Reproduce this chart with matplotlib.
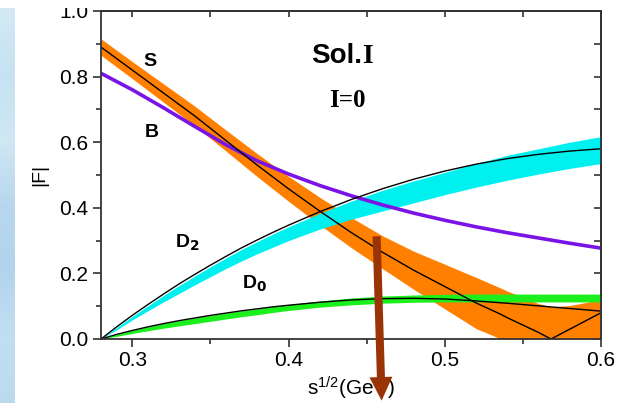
import numpy as np
import matplotlib
matplotlib.use("Agg")
import matplotlib.pyplot as plt
from matplotlib.colors import LinearSegmentedColormap
from matplotlib.patches import Rectangle

plt.rcParams['font.family'] = ['Liberation Sans', 'DejaVu Sans']
plt.rcParams['mathtext.default'] = 'regular'

# S wave: |F| central curve with its error band
x_s = [0.28, 0.30, 0.32, 0.34, 0.36, 0.38, 0.40, 0.42, 0.44, 0.46, 0.48, 0.50, 0.52,
       0.536, 0.54, 0.56, 0.568, 0.58, 0.60]
s_mid = [0.89, 0.82, 0.75, 0.68, 0.605, 0.53, 0.458, 0.39, 0.325, 0.265, 0.21, 0.16, 0.11,
         0.075, 0.065, 0.02, 0.0, 0.03, 0.08]
s_hi = [0.915, 0.846, 0.778, 0.71, 0.637, 0.565, 0.496, 0.432, 0.371, 0.315, 0.268, 0.228, 0.188,
        0.155, 0.146, 0.108, 0.098, 0.102, 0.12]
s_lo = [0.865, 0.794, 0.722, 0.65, 0.573, 0.495, 0.42, 0.348, 0.279, 0.215, 0.152, 0.092, 0.032,
        0.0, 0.0, 0.0, 0.0, 0.0, 0.0]

# B
x_b = [0.28, 0.30, 0.32, 0.34, 0.36, 0.38, 0.40, 0.42, 0.44, 0.46, 0.48, 0.50, 0.52,
       0.54, 0.56, 0.58, 0.60]
b_mid = [0.81, 0.76, 0.705, 0.648, 0.592, 0.543, 0.503, 0.468, 0.437, 0.409, 0.384, 0.362, 0.342,
         0.324, 0.308, 0.292, 0.277]

# D waves
x_d = [0.28, 0.29, 0.30, 0.31, 0.32, 0.33, 0.34, 0.35, 0.36, 0.37, 0.38, 0.39, 0.40,
       0.42, 0.44, 0.46, 0.48, 0.50, 0.52, 0.54, 0.56, 0.58, 0.60]
d2_mid = [0.0, 0.037, 0.072, 0.105, 0.137, 0.168, 0.197, 0.225, 0.252, 0.278, 0.302, 0.325, 0.347,
          0.388, 0.425, 0.458, 0.487, 0.512, 0.533, 0.550, 0.563, 0.573, 0.58]
d2_hi = [0.0, 0.035, 0.069, 0.101, 0.133, 0.163, 0.192, 0.220, 0.247, 0.273, 0.297, 0.320, 0.342,
         0.383, 0.420, 0.453, 0.482, 0.508, 0.535, 0.560, 0.580, 0.600, 0.617]
d2_lo = [0.0, 0.028, 0.058, 0.086, 0.113, 0.139, 0.165, 0.190, 0.215, 0.238, 0.260, 0.280, 0.300,
         0.335, 0.365, 0.390, 0.415, 0.440, 0.463, 0.484, 0.503, 0.520, 0.535]
d0_mid = [0.0, 0.014, 0.026, 0.037, 0.047, 0.056, 0.064, 0.072, 0.079, 0.086, 0.092, 0.098, 0.103,
          0.112, 0.119, 0.123, 0.124, 0.122, 0.116, 0.109, 0.101, 0.093, 0.085]
d0_hi = [0.0, 0.014, 0.026, 0.037, 0.047, 0.056, 0.064, 0.072, 0.079, 0.086, 0.092, 0.099, 0.105,
         0.116, 0.125, 0.131, 0.134, 0.136, 0.137, 0.137, 0.137, 0.137, 0.137]
d0_lo = [0.0, 0.008, 0.017, 0.025, 0.033, 0.040, 0.047, 0.054, 0.061, 0.068, 0.074, 0.081, 0.087,
         0.097, 0.104, 0.109, 0.112, 0.113, 0.113, 0.113, 0.113, 0.113, 0.113]

arrow_from = (0.4564, 0.313)
arrow_to = (0.4596, -0.188)

fig = plt.figure(figsize=(6.21, 4.03), dpi=100)

# light blue slide background on the left edge
bg = fig.add_axes([0, 0, 15 / 621, 395 / 403])
cmap = LinearSegmentedColormap.from_list('slide', ['#d4e9f5', '#c6e2f2', '#d0e7f4', '#b8d7ed',
                                                   '#b3d4ec', '#c2def1', '#bcdaee'])
bg.imshow(np.linspace(0, 1, 200).reshape(-1, 1), aspect='auto', cmap=cmap)
bg.axis('off')

ax = fig.add_axes([101 / 621, 64 / 403, 500 / 621, 328 / 403])

ax.fill_between(x_s, s_lo, s_hi, color='#ff7f00', lw=0)
ax.fill_between(x_d, d2_lo, d2_hi, color='#00f0f0', lw=0)
ax.fill_between(x_d, d0_lo, d0_hi, color='#1cf01c', lw=0)
ax.plot(x_b, b_mid, color='#7a14e6', lw=2.6)
ax.plot(x_s, s_mid, color='black', lw=1.0)
ax.plot(x_d, d2_mid, color='black', lw=1.0)
ax.plot(x_d, d0_mid, color='black', lw=1.0)

ax.text(0.307, 0.833, 'S', fontsize=14, fontweight='bold')
ax.text(0.3083, 0.617, 'B', fontsize=14, fontweight='bold')
ax.text(0.3276, 0.28, 'D$_\\mathbf{2}$', fontsize=14, fontweight='bold')
ax.text(0.3705, 0.155, 'D$_\\mathbf{0}$', fontsize=14, fontweight='bold')

t1 = ax.text(0.4145, 0.822, 'Sol.', fontsize=20, fontweight='bold', va='bottom')
ax.annotate('I', xy=(1, 0), xycoords=t1, va='bottom', ha='left', fontsize=20,
            fontweight='bold', family='Liberation Serif')
ax.text(0.4375, 0.727, 'I=0', fontsize=18, fontweight='bold', family='Liberation Serif',
        ha='center', va='center')

ax.annotate('', xy=arrow_to, xytext=arrow_from, annotation_clip=False,
            arrowprops=dict(arrowstyle='simple,head_length=17,head_width=16.5,tail_width=5.8',
                            mutation_scale=1, color='#9a3406', lw=0, shrinkA=0, shrinkB=0))

ax.set_xlim(0.28, 0.6)
ax.set_ylim(0, 1.0)
ax.set_xticks([0.3, 0.4, 0.5, 0.6])
ax.set_xticks([0.35, 0.45, 0.55], minor=True)
ax.set_yticks([0.0, 0.2, 0.4, 0.6, 0.8, 1.0])
ax.set_yticks([0.1, 0.3, 0.5, 0.7, 0.9], minor=True)
ax.set_xticklabels(['0.3', '0.4', '0.5', '0.6'])
ax.set_yticklabels(['0.0', '0.2', '0.4', '0.6', '0.8', '1.0'])
ax.tick_params(which='major', direction='out', length=6, width=1.2, labelsize=15,
               color='#333333', pad=3)
ax.tick_params(which='minor', direction='out', length=3.5, width=1.2, color='#333333')

top = ax.secondary_xaxis('top')
top.set_xticks([0.30, 0.35, 0.40, 0.45, 0.50, 0.55, 0.60])
top.tick_params(direction='in', length=4, width=1.2, labeltop=False, color='#333333')
right = ax.secondary_yaxis('right')
right.set_yticks([0.1 * i for i in range(11)])
right.tick_params(direction='in', length=5, width=1.2, labelright=False, color='#333333')
for a in (ax, top, right):
    for sp in a.spines.values():
        sp.set_color('#333333')
        sp.set_linewidth(1.3)

ax.set_ylabel('|F|', fontsize=14, labelpad=8)
ax.set_xlabel('s$^{1/2}$(GeV)', fontsize=15, labelpad=3)

# the slide crop leaves a white band on top that hides part of the "1.0" label
fig.patches.append(Rectangle((0, 395 / 403), 1, 8 / 403, transform=fig.transFigure,
                             facecolor='white', edgecolor='none', zorder=10))

fig.savefig('out.png', dpi=100)
